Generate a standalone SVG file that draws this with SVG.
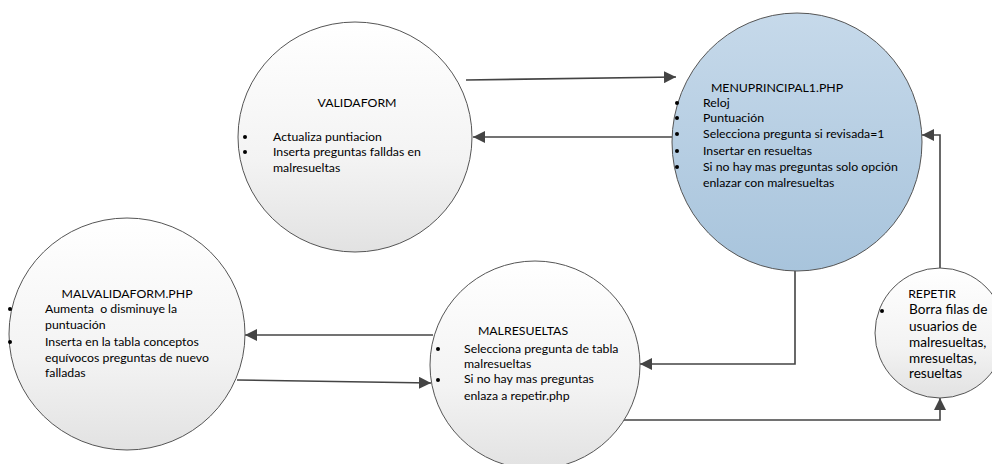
<svg xmlns="http://www.w3.org/2000/svg" width="992" height="464" viewBox="0 0 992 464">
<style>
text{font-family:Lato,"Noto Sans","Liberation Sans",sans-serif;font-size:12.3px;fill:#000}
.t{text-anchor:middle}
.r text{font-size:13.6px}
.r text.t{font-size:12.3px}
.node{stroke:#555;stroke-width:1}
.g{fill:url(#gray)}
.b{fill:url(#blue)}
.c{fill:none;stroke:#444;stroke-width:1.6}
.dot{fill:#000}
</style>
<defs>
<linearGradient id="gray" x1="0" y1="0" x2="0" y2="1">
<stop offset="0" stop-color="#ffffff"/>
<stop offset="0.6" stop-color="#f3f3f3"/>
<stop offset="1" stop-color="#e2e2e2"/>
</linearGradient>
<linearGradient id="blue" x1="0" y1="0" x2="0" y2="1">
<stop offset="0" stop-color="#c6d9ea"/>
<stop offset="1" stop-color="#a8c4dc"/>
</linearGradient>
<marker id="ah" markerUnits="userSpaceOnUse" markerWidth="14" markerHeight="12" refX="12" refY="6" orient="auto">
<path d="M0,0 L12,6 L0,12 Z" fill="#444"/>
</marker>
</defs>

<g id="connectors">
<line class="c" x1="466" y1="80" x2="676" y2="77" marker-end="url(#ah)"/>
<line class="c" x1="672" y1="137" x2="473" y2="137" marker-end="url(#ah)"/>
<polyline class="c" points="940,268 940,135 922,135" marker-end="url(#ah)"/>
<polyline class="c" points="795,271 795,364 640,364" marker-end="url(#ah)"/>
<polyline class="c" points="622,420 940,420 940,398" marker-end="url(#ah)"/>
<line class="c" x1="433" y1="335" x2="245" y2="335" marker-end="url(#ah)"/>
<line class="c" x1="237" y1="380" x2="431" y2="383" marker-end="url(#ah)"/>
</g>

<g id="validaform">
<ellipse class="node g" cx="355" cy="137" rx="117" ry="115"/>
<text class="t" x="357" y="107">VALIDAFORM</text>
<circle class="dot" cx="245" cy="137" r="2"/>
<circle class="dot" cx="245" cy="152" r="2"/>
<text x="273" y="141">Actualiza puntiacion</text>
<text x="273" y="156">Inserta preguntas falldas en</text>
<text x="273" y="172">malresueltas</text>
</g>

<g id="menuprincipal">
<ellipse class="node b" cx="797" cy="142" rx="125" ry="129"/>
<text class="t" x="777" y="92">MENUPRINCIPAL1.PHP</text>
<circle class="dot" cx="677" cy="103" r="2"/>
<circle class="dot" cx="677" cy="118" r="2"/>
<circle class="dot" cx="677" cy="134" r="2"/>
<circle class="dot" cx="677" cy="151" r="2"/>
<circle class="dot" cx="677" cy="167" r="2"/>
<text x="703" y="107">Reloj</text>
<text x="703" y="122">Puntuación</text>
<text x="703" y="138">Selecciona pregunta si revisada=1</text>
<text x="703" y="155">Insertar en resueltas</text>
<text x="703" y="171">Si no hay mas preguntas solo opción</text>
<text x="703" y="187">enlazar con malresueltas</text>
</g>

<g id="malvalidaform">
<ellipse class="node g" cx="127" cy="334" rx="118" ry="116"/>
<text class="t" x="127" y="298">MALVALIDAFORM.PHP</text>
<circle class="dot" cx="10" cy="309" r="2"/>
<circle class="dot" cx="10" cy="342" r="2"/>
<text x="45" y="313" xml:space="preserve">Aumenta  o disminuye la</text>
<text x="45" y="329">puntuación</text>
<text x="45" y="346">Inserta en la tabla conceptos</text>
<text x="45" y="362">equívocos preguntas de nuevo</text>
<text x="45" y="377">falladas</text>
</g>

<g id="malresueltas">
<ellipse class="node g" cx="535" cy="365" rx="105" ry="104"/>
<text class="t" x="523" y="335">MALRESUELTAS</text>
<circle class="dot" cx="438" cy="349" r="2"/>
<circle class="dot" cx="438" cy="380" r="2"/>
<text x="464" y="353">Selecciona pregunta de tabla</text>
<text x="464" y="368">malresueltas</text>
<text x="464" y="383">Si no hay mas preguntas</text>
<text x="464" y="400">enlaza a repetir.php</text>
</g>

<g id="repetir" class="r">
<circle class="node g" cx="940" cy="333" r="65"/>
<text class="t" x="932" y="298">REPETIR</text>
<circle class="dot" cx="882" cy="311" r="2"/>
<text x="909" y="314">Borra filas de</text>
<text x="909" y="331">usuarios de</text>
<text x="909" y="347">malresueltas,</text>
<text x="909" y="363">mresueltas,</text>
<text x="909" y="378">resueltas</text>
</g>
</svg>
